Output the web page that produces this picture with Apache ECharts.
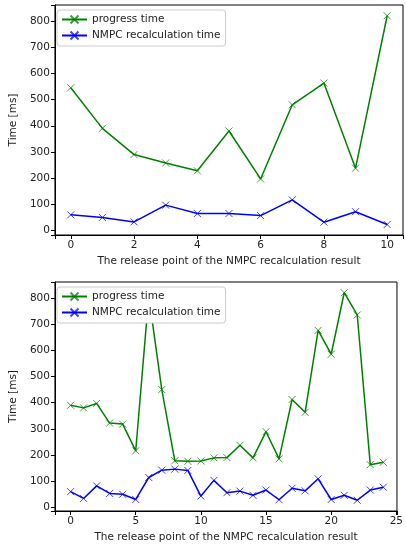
<!DOCTYPE html>
<html>
<head>
<meta charset="utf-8">
<script src="https://cdn.jsdelivr.net/npm/echarts@6/dist/echarts.min.js"></script>
<style>
  html, body {margin: 0; padding: 0; background: #fff;}
  #chart {width: 406px; height: 546px;}
</style>
</head>
<body>
<div id="chart"></div>
<script>
// upper plot: 11 release points
const topPoints = [0, 1, 2, 3, 4, 5, 6, 7, 8, 9, 10];
const topProgress = [545, 390, 290, 258, 228, 380, 197, 480, 563, 238, 820];
const topNmpc = [60, 50, 33, 97, 65, 65, 57, 117, 32, 72, 23];

// lower plot: 25 release points
const bottomPoints = [0, 1, 2, 3, 4, 5, 6, 7, 8, 9, 10, 11, 12, 13, 14, 15, 16, 17, 18, 19, 20, 21, 22, 23, 24];
const bottomProgress = [390, 380, 397, 322, 318, 216, 808, 450, 178, 176, 177, 189, 190, 237, 189, 289, 185, 412, 363, 676, 585, 820, 735, 163, 172];
const bottomNmpc = [60, 34, 82, 53, 50, 30, 114, 142, 146, 141, 43, 103, 56, 62, 46, 66, 29, 73, 63, 109, 30, 46, 27, 66, 77];

const seriesNames = ["progress time", "NMPC recalculation time"];
const xTitle = "The release point of the NMPC recalculation result";
const yTitle = "Time [ms]";

const GREEN = "#008000";
const BLUE = "#0000ff";
const X_MARK = "path://M0,0L10,10M10,0L0,10";
const TEXT = "#222";
const FONT = "DejaVu Sans";

function pairs(xs, ys) {
  return xs.map((x, i) => [x, ys[i]]);
}

function stepLabel(step) {
  return (v) => (Math.abs(v / step - Math.round(v / step)) < 1e-6 ? String(v) : "");
}

function xAxis(gridIndex, min, max, step) {
  return {
    type: "value", gridIndex: gridIndex, min: min, max: max, splitNumber: 5,
    name: xTitle, nameLocation: "middle", nameGap: 21,
    nameTextStyle: {color: TEXT, fontSize: 10.5, fontFamily: FONT},
    axisLine: {show: true, onZero: false, lineStyle: {color: "#000", width: 1}},
    axisTick: {show: true, length: 4, lineStyle: {color: "#000"}},
    axisLabel: {color: TEXT, fontSize: 10.5, fontFamily: FONT, margin: 5, formatter: stepLabel(step)},
    splitLine: {show: false},
  };
}

function yAxis(gridIndex, min, max) {
  return {
    type: "value", gridIndex: gridIndex, min: min, max: max, splitNumber: 9,
    name: yTitle, nameLocation: "middle", nameGap: 32, nameRotate: 90,
    nameTextStyle: {color: TEXT, fontSize: 10.5, fontFamily: FONT},
    axisLine: {show: true, onZero: false, lineStyle: {color: "#000", width: 1}},
    axisTick: {show: true, length: 4, lineStyle: {color: "#000"}},
    axisLabel: {color: TEXT, fontSize: 10.5, fontFamily: FONT, margin: 5, formatter: stepLabel(100)},
    splitLine: {show: false},
  };
}

function line(name, color, idx, data) {
  return {
    name: name, type: "line", xAxisIndex: idx, yAxisIndex: idx, data: data,
    symbol: X_MARK, symbolSize: 7, showSymbol: true,
    lineStyle: {color: color, width: 1.5},
    itemStyle: {color: color, borderColor: color, borderWidth: 1, opacity: 0.75},
    emphasis: {disabled: true},
  };
}

function legend(top) {
  return {
    data: seriesNames, orient: "vertical", left: 57, top: top,
    itemWidth: 25, itemHeight: 10, itemGap: 5,
    padding: [4, 5, 5, 4],
    backgroundColor: "#fff", borderColor: "#ccc", borderWidth: 1, borderRadius: 3,
    textStyle: {color: TEXT, fontSize: 10.5, fontFamily: FONT},
  };
}

const chart = echarts.init(document.getElementById("chart"), null, {renderer: "canvas"});
chart.setOption({
  animation: false,
  backgroundColor: "#fff",
  grid: [
    {left: 52, top: 5, right: 0, height: 230, show: true, borderColor: "#000", borderWidth: 1},
    {left: 52, top: 282, width: 349, height: 229, show: true, borderColor: "#000", borderWidth: 1},
  ],
  xAxis: [xAxis(0, -0.5, 10.5, 2), xAxis(1, -1.2, 25.05, 5)],
  yAxis: [yAxis(0, -17, 861), yAxis(1, -14, 861)],
  legend: [legend(10), legend(287)],
  series: [
    line(seriesNames[0], GREEN, 0, pairs(topPoints, topProgress)),
    line(seriesNames[1], BLUE, 0, pairs(topPoints, topNmpc)),
    line(seriesNames[0], GREEN, 1, pairs(bottomPoints, bottomProgress)),
    line(seriesNames[1], BLUE, 1, pairs(bottomPoints, bottomNmpc)),
  ],
});
</script>
</body>
</html>
